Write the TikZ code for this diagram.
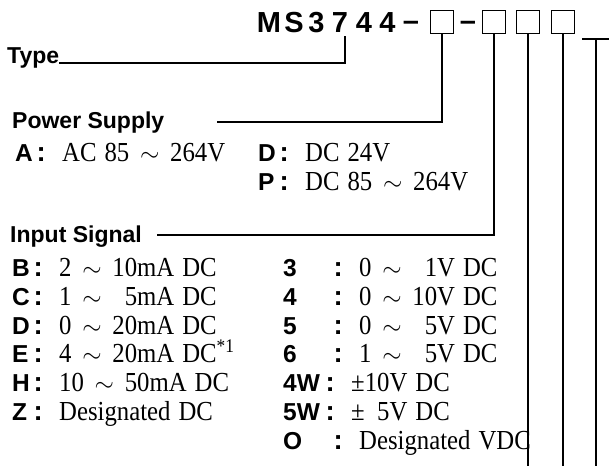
\documentclass[tikz,border=0pt]{standalone}
\usepackage{fontspec}
\setmainfont{Liberation Serif}[WordSpace=1.3, FakeStretch=0.9]
\setsansfont{Liberation Sans}
\usepackage{amsmath}
\usetikzlibrary{positioning}

\newcommand{\wave}{\makebox[0.9em]{$\sim$}}
\newcommand{\code}[2][26pt]{\makebox[#1][l]{\sffamily\bfseries\fontsize{24.5}{29}\selectfont #2}\makebox[0pt]{\sffamily\bfseries :}\hspace{21pt}}

\begin{document}
\begin{tikzpicture}[x=1pt,y=-1pt,
  title/.style={font=\sffamily\bfseries\fontsize{29}{29}\selectfont, inner sep=0pt, anchor=base},
  codebox/.style={draw, line width=1.5pt, minimum size=23pt, inner sep=0pt},
  head/.style={font=\sffamily\bfseries\fontsize{23}{24}\selectfont, inner sep=0pt, anchor=base west},
  row/.style={font=\fontsize{27.5}{29}\selectfont, inner sep=0pt, anchor=base west},
  wire/.style={line width=1.5pt}]
\useasboundingbox (0,0) rectangle (610,466);

% Model code
\node[title] (cM) at (269,32) {M};
\node[title] (cS) at (294,32) {S};
\node[title] (d3) at (316.5,32) {3};
\node[title] (d7) at (340,32) {7};
\node[title] (d4a) at (364,32) {4};
\node[title] (d4b) at (387.5,32) {4};
\node[title] (dash1) at (411,30) {–};
\node[codebox] (box1) at (442,22) {};
\node[title] (dash2) at (468,30) {–};
\node[codebox] (box2) at (494,22) {};
\node[codebox] (box3) at (528,22) {};
\node[codebox] (box4) at (563,22) {};
\coordinate (opt) at (596,39);
\coordinate (optL) at (582,39);
\coordinate (optR) at (609,39);
\coordinate (bottom) at (0,466);

% Type
\node[head] (type) at (7,63) {Type};
\draw[wire] (type.base east) -| ([xshift=5pt,yshift=-4pt]d7.south);

% Power supply
\node[head] (power) at (12,128) {Power Supply};
\coordinate (powerline) at (217,122);
\draw[wire] (box1.south) |- (powerline);
\node[row] (psA) at (15,161) {\code{A}AC 85 \wave\ 264V};
\node[row] (psD) at (258,161) {\code{D}DC 24V};
\node[row] (psP) at (258,190) {\code{P}DC 85 \wave\ 264V};

% Input signal
\node[head] (input) at (10,242) {Input Signal};
\coordinate (inputline) at (157,235);
\draw[wire] (box2.south) |- (inputline);

% Current inputs
\node[row] (inB) at (12,276) {\code{B}2 \wave\ 10mA DC};
\node[row] (inC) at (12,305) {\code{C}1 \wave\ \phantom{1}5mA DC};
\node[row] (inD) at (12,334) {\code{D}0 \wave\ 20mA DC};
\node[row] (inE) at (12,362) {\code{E}4 \wave\ 20mA DC\textsuperscript{*1}};
\node[row] (inH) at (12,391) {\code{H}10 \wave\ 50mA DC};
\node[row] (inZ) at (12,420) {\code{Z}Designated DC};

% Voltage inputs
\node[row] (in3) at (283,276) {\code[55pt]{3}0 \wave\ \phantom{1}1V DC};
\node[row] (in4) at (283,305) {\code[55pt]{4}0 \wave\ 10V DC};
\node[row] (in5) at (283,334) {\code[55pt]{5}0 \wave\ \phantom{1}5V DC};
\node[row] (in6) at (283,362) {\code[55pt]{6}1 \wave\ \phantom{1}5V DC};
\node[row] (in4W) at (283,391) {\code[47pt]{4W}±10V DC};
\node[row] (in5W) at (283,420) {\code[47pt]{5W}±\phantom{1}5V DC};
\node[row] (inO) at (283,449) {\code[55pt]{O}Designated VDC};

% Remaining codes
\draw[wire] (box3.south) -- (box3.south |- bottom);
\draw[wire] (box4.south) -- (box4.south |- bottom);
\draw[wire] (optL) -- (optR);
\draw[wire] (opt) -- (opt |- bottom);

\end{tikzpicture}
\end{document}
